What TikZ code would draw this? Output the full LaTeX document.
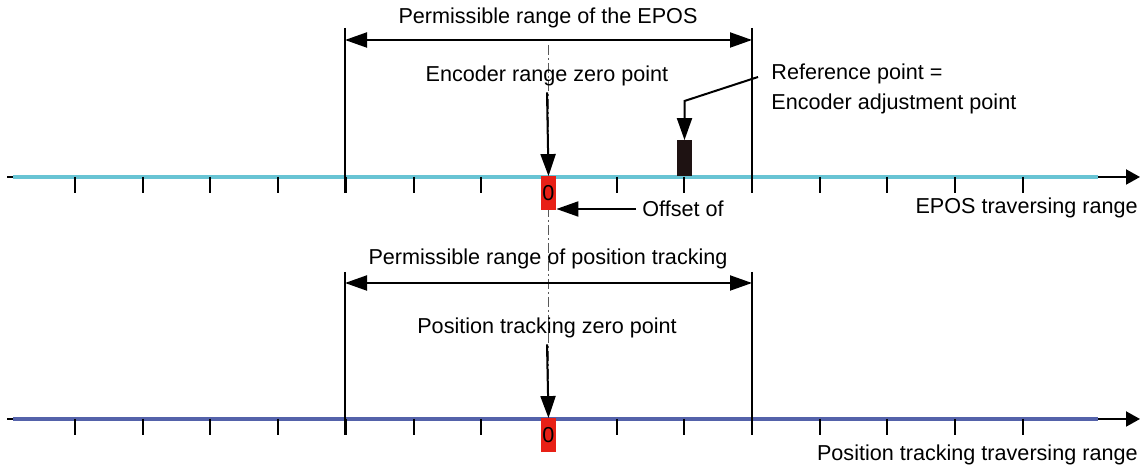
\documentclass[tikz,border=0pt]{standalone}
\usepackage{fontspec}
\setmainfont{Liberation Sans}
\usepackage{xcolor}
\usetikzlibrary{arrows.meta}
\definecolor{axcyan}{RGB}{104,196,212}
\definecolor{axblue}{RGB}{84,98,170}
\definecolor{zerored}{RGB}{232,32,22}
\definecolor{refblack}{RGB}{30,18,18}

\begin{document}
\begin{tikzpicture}[x=0.5pt, y=-0.5pt,
  lbl/.style={inner sep=0pt, font=\fontsize{10.8}{13}\selectfont},
  arr/.style={line width=1pt, -{Triangle[length=11pt,width=7.5pt]}},
  dimarr/.style={line width=1pt, {Triangle[length=11pt,width=7.5pt]}-{Triangle[length=11pt,width=7.5pt]}},
  axisarr/.style={line width=1pt, -{Triangle[length=7pt,width=7.5pt]}},
  tickline/.style={line width=1pt},
  zerobox/.style={fill=zerored, inner sep=0pt, minimum width=7.5pt, minimum height=17pt, font=\fontsize{10.8}{13}\selectfont}]
\useasboundingbox (0,0) rectangle (1147,469);
% centre line
\coordinate (ct) at (548.5,45);
\coordinate (cb) at (548.5,419);
\draw[gray!70!black, line width=0.5pt, dash pattern=on 5pt off 1.5pt on 1pt off 1.5pt] (ct)--(cb);
% EPOS axis
\coordinate (al) at (7,177);
\coordinate (ar) at (1140,177);
\coordinate (cl) at (13,177);
\coordinate (cr) at (1098,177);
\draw[axisarr] (al)--(ar);
\draw[axcyan, line width=1.8pt] (cl)--(cr);
\foreach \i in {0,...,14}
  \draw[tickline] (75+67.7*\i,177)--++(0,16);
% position tracking axis
\coordinate (bl) at (7,419);
\coordinate (br) at (1140,419);
\coordinate (dl) at (13,419);
\coordinate (dr) at (1098,419);
\draw[axisarr] (bl)--(br);
\draw[axblue, line width=1.8pt] (dl)--(dr);
\foreach \i in {0,...,14}
  \draw[tickline] (75+67.7*\i,419)--++(0,16);
% permissible range of the EPOS
\coordinate (lt) at (345,28);
\coordinate (lb) at (345,193);
\coordinate (rt) at (752,28);
\coordinate (rb) at (752,193);
\draw[tickline] (lt)--(lb);
\draw[tickline] (rt)--(rb);
\coordinate (pl) at (345,40);
\coordinate (pr) at (752,40);
\draw[dimarr] (pl)--(pr);
\node[lbl] (perm) at (548,18) {Permissible range of the EPOS};
% permissible range of position tracking
\coordinate (lt2) at (345,272);
\coordinate (lb2) at (345,435);
\coordinate (rt2) at (752,272);
\coordinate (rb2) at (752,435);
\draw[tickline] (lt2)--(lb2);
\draw[tickline] (rt2)--(rb2);
\coordinate (pl2) at (345,283);
\coordinate (pr2) at (752,283);
\draw[dimarr] (pl2)--(pr2);
\node[lbl] (perm2) at (548,259) {Permissible range of position tracking};
% zero points
\node[zerobox] (z1) at (548.5,193.5) {0};
\node[zerobox] (z2) at (548.5,435.5) {0};
\node[lbl] (enc) at (547,76) {Encoder range zero point};
\draw[arr] ([yshift=-3pt]enc.south) -- (z1.north);
\node[lbl] (pos) at (547,328) {Position tracking zero point};
\draw[arr] ([yshift=-3pt]pos.south) -- (z2.north);
% offset
\node[lbl, anchor=west] (off) at (642,209) {Offset of};
\draw[arr] ([xshift=-3pt]off.west) -- (off.west -| z1.east);
% reference point
\node[refblack, fill=refblack, inner sep=0pt, minimum width=7.5pt, minimum height=18pt] (refbox) at (684.5,158.5) {};
\node[lbl, anchor=west, align=left] (reftxt) at (771,88.5) {Reference point =\\[2pt]Encoder adjustment point};
\coordinate (rs) at (758,77);
\coordinate (rk) at (684.5,101);
\draw[arr] (rs) -- (rk) -- (refbox.north);
% axis labels
\node[lbl, anchor=east] (eposlbl) at (1138,208) {EPOS traversing range};
\node[lbl, anchor=east] (poslbl) at (1138,455) {Position tracking traversing range};
\end{tikzpicture}
\end{document}
